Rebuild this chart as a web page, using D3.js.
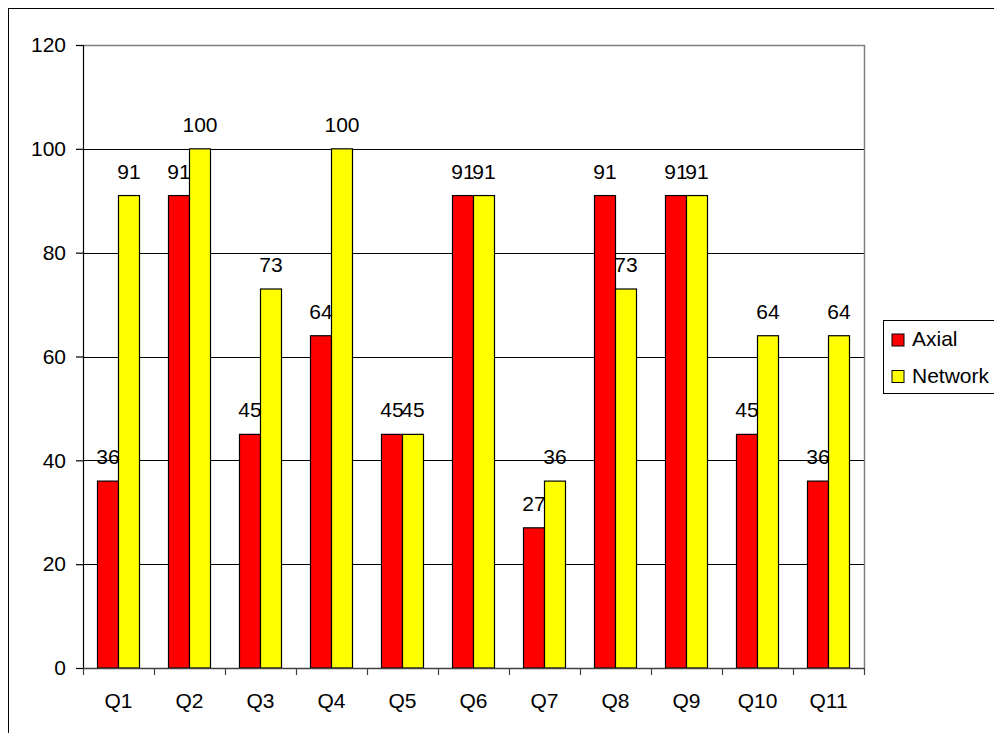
<!DOCTYPE html>
<html>
<head>
<meta charset="utf-8">
<script src="https://cdn.jsdelivr.net/npm/d3@7"></script>
<style>
  html, body { margin: 0; padding: 0; background: #fff; }
  svg { display: block; font-family: "Liberation Sans", Arial, sans-serif; }
</style>
</head>
<body>
<svg id="chart" width="994" height="733"></svg>
<script>
// Scores per question for the two approaches
const categories = ["Q1", "Q2", "Q3", "Q4", "Q5", "Q6", "Q7", "Q8", "Q9", "Q10", "Q11"];
const seriesNames = ["Axial", "Network"];
const axialValues = [36, 91, 45, 64, 45, 91, 27, 91, 91, 45, 36];
const networkValues = [91, 100, 73, 100, 45, 91, 36, 73, 91, 64, 64];
const yTicks = [0, 20, 40, 60, 80, 100, 120];
const seriesColors = ["#FF0000", "#FFFF00"];

const FONT = 21;
const svg = d3.select("#chart");
const plot = { left: 83, right: 864, top: 45, bottom: 668 };

// Outer frame (runs off the right and bottom edges)
svg.append("rect")
  .attr("x", 8.5).attr("y", 8.5)
  .attr("width", 1000).attr("height", 800)
  .attr("fill", "none").attr("stroke", "#000").attr("stroke-width", 1);

const x = d3.scaleBand().domain(categories).range([plot.left, plot.right]).padding(0);
const x1 = d3.scaleBand().domain(seriesNames).range([14.5, 56.5]).padding(0);
const y = d3.scaleLinear().domain([0, 120]).range([plot.bottom, plot.top]);

// Horizontal gridlines
svg.append("g").selectAll("line")
  .data(yTicks.filter(t => t > 0 && t < 120))
  .join("line")
  .attr("x1", plot.left).attr("x2", plot.right)
  .attr("y1", d => Math.round(y(d)) + 0.5).attr("y2", d => Math.round(y(d)) + 0.5)
  .attr("stroke", "#000").attr("stroke-width", 1);

// Plot area border (top and right in grey)
svg.append("path")
  .attr("d", `M${plot.left},${plot.top + 0.5}H${plot.right + 0.5}V${plot.bottom}`)
  .attr("fill", "none").attr("stroke", "#808080").attr("stroke-width", 1.5);

// Bars
const rows = categories.map((c, i) => ({ cat: c, values: [axialValues[i], networkValues[i]] }));
const groups = svg.append("g").selectAll("g")
  .data(rows).join("g")
  .attr("transform", d => `translate(${x(d.cat)},0)`);

groups.selectAll("rect")
  .data(d => d.values.map((v, k) => ({ name: seriesNames[k], value: v, color: seriesColors[k] })))
  .join("rect")
  .attr("x", d => x1(d.name))
  .attr("width", x1.bandwidth())
  .attr("y", d => y(d.value))
  .attr("height", d => y(0) - y(d.value))
  .attr("fill", d => d.color)
  .attr("stroke", "#000").attr("stroke-width", 1.2);

// Value labels
groups.selectAll("text")
  .data(d => d.values.map((v, k) => ({ name: seriesNames[k], value: v })))
  .join("text")
  .attr("x", d => x1(d.name) + x1.bandwidth() / 2)
  .attr("y", d => y(d.value) - 17)
  .attr("text-anchor", "middle")
  .attr("font-size", FONT)
  .attr("fill", "#000")
  .text(d => d.value);

// Y axis
const yAxis = d3.axisLeft(y).tickValues(yTicks).tickSize(7).tickPadding(10);
const gy = svg.append("g").attr("transform", `translate(${plot.left},0)`).call(yAxis);
gy.select(".domain").attr("stroke", "#000").attr("stroke-width", 1.2);
gy.selectAll(".tick line").attr("stroke", "#000").attr("stroke-width", 1.2);
gy.selectAll(".tick text").attr("font-size", FONT).attr("font-family", "Liberation Sans, Arial, sans-serif").attr("fill", "#000");

// X axis with ticks on category boundaries
svg.append("line")
  .attr("x1", plot.left).attr("x2", plot.right + 0.5)
  .attr("y1", plot.bottom + 0.5).attr("y2", plot.bottom + 0.5)
  .attr("stroke", "#404040").attr("stroke-width", 1.5);
const boundaries = categories.map(c => x(c)).concat([plot.right]);
svg.append("g").selectAll("line")
  .data(boundaries).join("line")
  .attr("x1", d => Math.round(d) + 0.5).attr("x2", d => Math.round(d) + 0.5)
  .attr("y1", plot.bottom).attr("y2", plot.bottom + 7)
  .attr("stroke", "#404040").attr("stroke-width", 1.2);
svg.append("g").selectAll("text")
  .data(categories).join("text")
  .attr("x", d => x(d) + x.bandwidth() / 2)
  .attr("y", 708)
  .attr("text-anchor", "middle")
  .attr("font-size", FONT)
  .attr("fill", "#000")
  .text(d => d);

// Legend
const legend = svg.append("g");
legend.append("rect")
  .attr("x", 883.5).attr("y", 320.5)
  .attr("width", 140).attr("height", 73)
  .attr("fill", "#fff").attr("stroke", "#000").attr("stroke-width", 1);
const items = legend.selectAll("g.item")
  .data(seriesNames).join("g").attr("class", "item")
  .attr("transform", (d, i) => `translate(0,${i * 36.5})`);
items.append("rect")
  .attr("x", 892).attr("y", 334)
  .attr("width", 12).attr("height", 12)
  .attr("fill", (d, i) => seriesColors[i])
  .attr("stroke", "#000").attr("stroke-width", 1);
items.append("text")
  .attr("x", 912).attr("y", 346)
  .attr("font-size", FONT)
  .attr("fill", "#000")
  .text(d => d);
</script>
</body>
</html>
